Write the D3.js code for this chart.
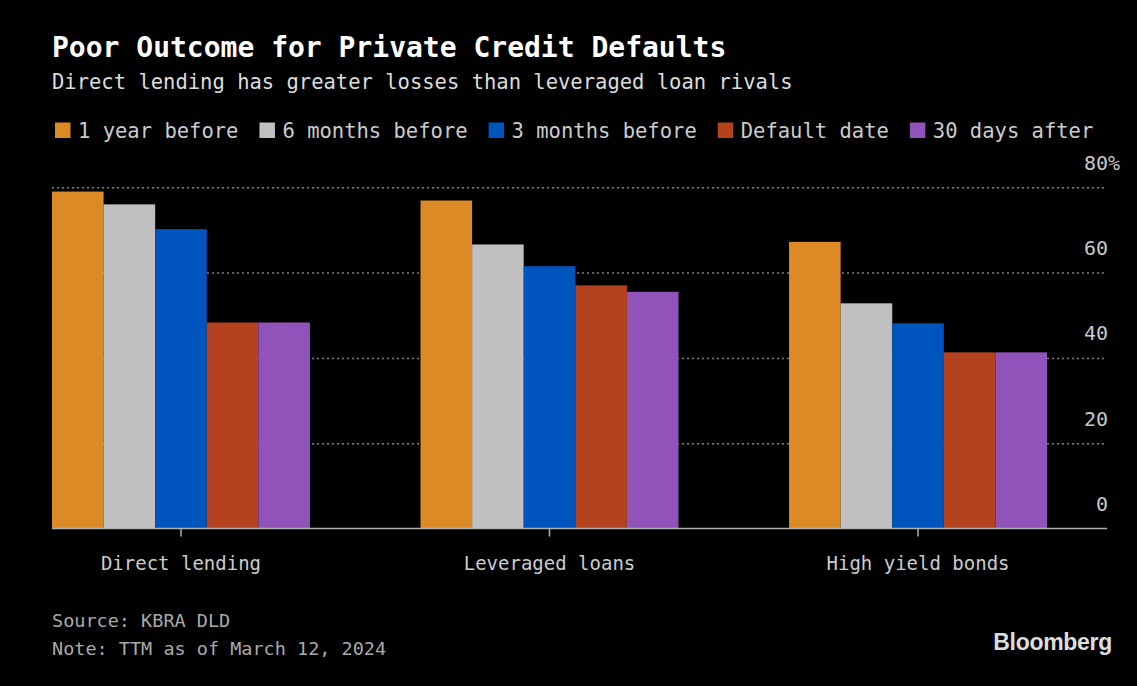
<!DOCTYPE html>
<html><head><meta charset="utf-8">
<script src="https://cdn.jsdelivr.net/npm/d3@7"></script>
<style>body{margin:0;background:#000}svg{display:block}</style>
</head><body>
<script>
const categories = ["Direct lending", "Leveraged loans", "High yield bonds"];
const seriesNames = ["1 year before", "6 months before", "3 months before", "Default date", "30 days after"];
const oneYearBefore = [79.0, 76.9, 67.2];
const sixMonthsBefore = [76.0, 66.6, 52.8];
const threeMonthsBefore = [70.2, 61.5, 48.1];
const defaultDate = [48.3, 57.0, 41.3];
const thirtyDaysAfter = [48.3, 55.5, 41.3];
const yTicks = [0, 20, 40, 60, 80];
const seriesColors = ["#DC8A26", "#C0C0C0", "#0054BE", "#B4421F", "#9053B9"];

const seriesValues = [oneYearBefore, sixMonthsBefore, threeMonthsBefore, defaultDate, thirtyDaysAfter];
const W = 1137, H = 686;
const MONO = "'DejaVu Sans Mono', monospace";

const svg = d3.select("body").append("svg").attr("width", W).attr("height", H);
svg.append("rect").attr("width", W).attr("height", H).attr("fill", "#000");

// titles
svg.append("text").attr("x", 52).attr("y", 57).text("Poor Outcome for Private Credit Defaults")
  .attr("font-family", MONO).attr("font-weight", "bold").attr("font-size", 28).attr("fill", "#fff");
svg.append("text").attr("x", 52).attr("y", 89).text("Direct lending has greater losses than leveraged loan rivals")
  .attr("font-family", MONO).attr("font-size", 20.5).attr("fill", "#ddd");

// legend
const color = d3.scaleOrdinal(seriesNames, seriesColors);
let lx = 55;
seriesNames.forEach(name => {
  const g = svg.append("g").attr("transform", `translate(${lx},0)`);
  g.append("rect").attr("x", 0).attr("y", 122.5).attr("width", 15.5).attr("height", 15.5).attr("fill", color(name));
  const t = g.append("text").attr("x", 23).attr("y", 138).text(name)
    .attr("font-family", MONO).attr("font-size", 20.5).attr("fill", "#ccc");
  lx += 23 + t.node().getComputedTextLength() + 21;
});

// scales
const x0 = d3.scaleBand(categories, [52, 1047]).paddingInner(0.3).paddingOuter(0);
const x1 = d3.scaleBand(seriesNames, [0, x0.bandwidth()]).padding(0);
const y = d3.scaleLinear([0, 80], [528.5, 187.3]);
const plotRight = 1107;

// y axis / gridlines
const yAxis = svg.append("g").attr("transform", "translate(52,0)")
  .call(d3.axisRight(y).tickValues(yTicks).tickSize(plotRight - 52).tickFormat(d => d));
yAxis.select(".domain").remove();
yAxis.selectAll(".tick line").attr("stroke", d => d === 0 ? "none" : "#808080")
  .attr("stroke-width", 1.5).attr("stroke-dasharray", "2,3");
yAxis.selectAll(".tick text").attr("x", 1108 - 52).attr("dy", -18).attr("text-anchor", "end")
  .attr("font-family", MONO).attr("font-size", 20).attr("fill", "#c8c8c8");
yAxis.selectAll(".tick").filter(d => d === 80).append("text")
  .attr("x", 1108 - 52).attr("dy", -18).attr("text-anchor", "start").text("%")
  .attr("font-family", MONO).attr("font-size", 20).attr("fill", "#c8c8c8");

// bars
const groups = svg.append("g").selectAll("g").data(categories).join("g")
  .attr("transform", d => `translate(${x0(d)},0)`);
groups.selectAll("rect")
  .data((c, ci) => seriesNames.map((s, si) => ({ s, v: seriesValues[si][ci] })))
  .join("rect")
  .attr("x", d => x1(d.s)).attr("width", x1.bandwidth())
  .attr("y", d => y(d.v)).attr("height", d => y(0) - y(d.v))
  .attr("fill", d => color(d.s));

// baseline
svg.append("line").attr("x1", 52).attr("x2", plotRight).attr("y1", y(0)).attr("y2", y(0))
  .attr("stroke", "#b0b0b0").attr("stroke-width", 1.5);

// x axis
const xAxis = svg.append("g").attr("transform", `translate(0,${y(0)})`)
  .call(d3.axisBottom(x0).tickSize(8));
xAxis.select(".domain").remove();
xAxis.selectAll(".tick line").attr("stroke", "#b0b0b0").attr("stroke-width", 1.5);
xAxis.selectAll(".tick text").attr("y", 41).attr("dy", 0)
  .attr("font-family", MONO).attr("font-size", 19).attr("fill", "#ccc");

// footer
svg.append("text").attr("x", 52).attr("y", 627).text("Source: KBRA DLD")
  .attr("font-family", MONO).attr("font-size", 18.5).attr("fill", "#aaa");
svg.append("text").attr("x", 52).attr("y", 655).text("Note: TTM as of March 12, 2024")
  .attr("font-family", MONO).attr("font-size", 18.5).attr("fill", "#aaa");
svg.append("text").attr("x", 1112).attr("y", 650).attr("text-anchor", "end").text("Bloomberg")
  .attr("font-family", "'Liberation Sans', Arial, sans-serif").attr("font-weight", "bold")
  .attr("font-size", 23).attr("fill", "#ddd").attr("letter-spacing", -0.3);
</script>
</body></html>
